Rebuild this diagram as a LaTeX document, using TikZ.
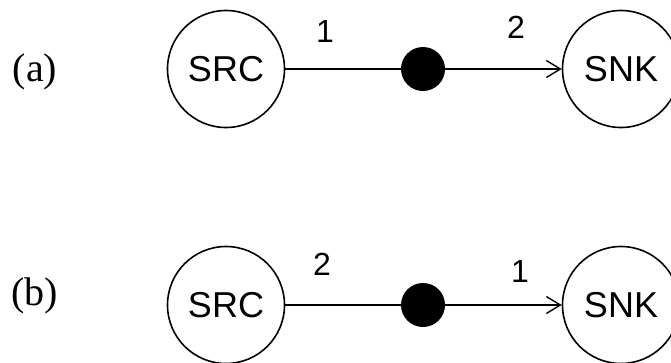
\documentclass[tikz,border=0pt]{standalone}
\usepackage{fontspec}
\setmainfont{Liberation Serif}
\newfontfamily\arialfont{Liberation Sans}
\usetikzlibrary{arrows.meta}
\begin{document}
\begin{tikzpicture}[x=1pt,y=1pt,
  actor/.style={circle,draw,line width=1.6pt,minimum size=117pt,inner sep=0pt,font=\arialfont\fontsize{36}{36}\selectfont},
  token/.style={circle,fill=black,minimum size=44pt,inner sep=0pt},
  edge/.style={line width=1.6pt},
  rate/.style={font=\arialfont\fontsize{32}{32}\selectfont},
  tag/.style={font=\fontsize{40}{40}\selectfont}]
\useasboundingbox (0,0) rectangle (671,-362);

% (a)
\node[tag] (la) at (35,-72) {(a)};
\node[actor] (srca) at (226,-69) {SRC};
\node[actor] (snka) at (621,-69) {SNK};
\node[token] (da) at (423,-69) {};
\draw[edge] (srca) -- (da);
\draw[edge,-{Straight Barb[length=14pt,width=17pt,line width=1.4pt]}] (da) -- (snka);
\node[rate] (ra1) at (325,-31) {1};
\node[rate] (ra2) at (516,-27) {2};

% (b)
\node[tag] (lb) at (35,-296) {(b)};
\node[actor] (srcb) at (226,-305) {SRC};
\node[actor] (snkb) at (621,-305) {SNK};
\node[token] (db) at (423,-305) {};
\draw[edge] (srcb) -- (db);
\draw[edge,-{Straight Barb[length=14pt,width=17pt,line width=1.4pt]}] (db) -- (snkb);
\node[rate] (rb2) at (322,-264) {2};
\node[rate] (rb1) at (520,-271) {1};
\end{tikzpicture}
\end{document}
